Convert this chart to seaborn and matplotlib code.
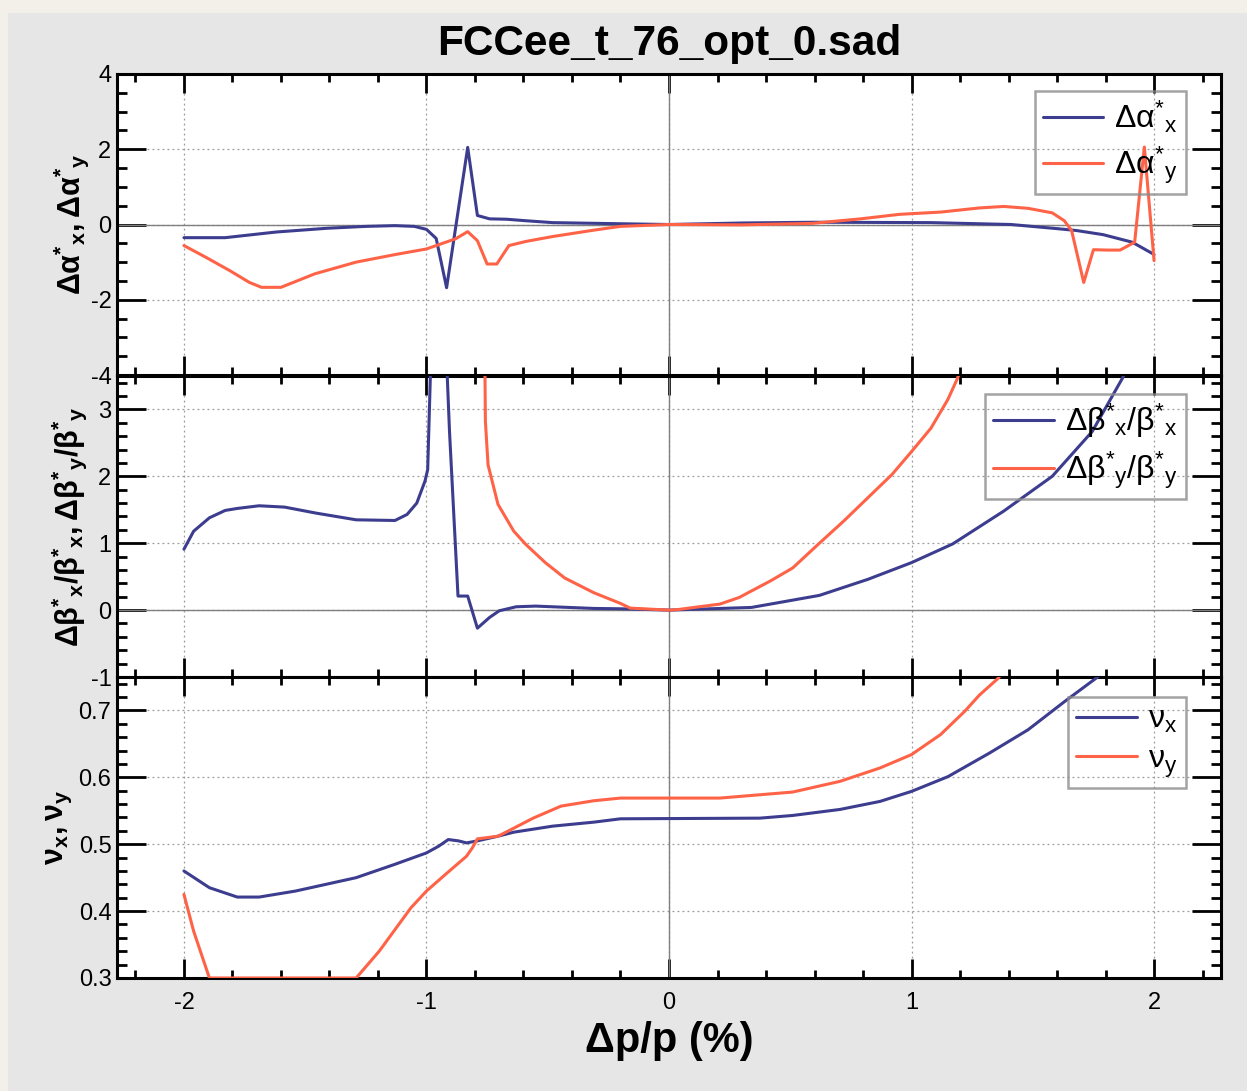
import numpy as np
import pandas as pd
import seaborn as sns
import matplotlib.pyplot as plt
from matplotlib.patches import Rectangle
from matplotlib.lines import Line2D
from matplotlib.ticker import MultipleLocator

# ---- data ----
# panel 1: delta alpha*
alpha_x_dp = [-2.0, -1.83, -1.62, -1.41, -1.25, -1.13, -1.05, -1.0, -0.96, -0.917, -0.83, -0.79,
              -0.74, -0.67, -0.59, -0.48, -0.2, 0.0, 0.3, 0.6, 1.08, 1.41, 1.6, 1.68, 1.79, 1.91, 1.99, 2.0]
alpha_x = [-0.35, -0.35, -0.2, -0.1, -0.05, -0.03, -0.05, -0.13, -0.37, -1.68, 2.05, 0.24,
           0.15, 0.14, 0.1, 0.05, 0.02, 0.0, 0.04, 0.06, 0.05, 0.0, -0.11, -0.16, -0.27, -0.47, -0.76, -0.8]
alpha_y_dp = [-2.0, -1.91, -1.81, -1.73, -1.68, -1.6, -1.46, -1.29, -1.13, -1.0, -0.88, -0.83, -0.79,
              -0.75, -0.71, -0.66, -0.59, -0.48, -0.31, -0.2, 0.0, 0.3, 0.59, 0.79, 0.95, 1.12, 1.28,
              1.38, 1.48, 1.58, 1.63, 1.66, 1.71, 1.75, 1.81, 1.86, 1.92, 1.96, 2.0]
alpha_y = [-0.56, -0.87, -1.23, -1.54, -1.67, -1.67, -1.31, -1.0, -0.8, -0.65, -0.38, -0.19, -0.43,
           -1.05, -1.05, -0.56, -0.45, -0.32, -0.15, -0.05, 0.0, -0.01, 0.03, 0.15, 0.27, 0.33, 0.44,
           0.48, 0.43, 0.31, 0.1, -0.16, -1.54, -0.67, -0.68, -0.68, -0.47, 2.06, -0.96]

# panel 2: delta beta* / beta*
beta_x_dp = [-2.0, -1.96, -1.895, -1.83, -1.78, -1.69, -1.585, -1.455, -1.29, -1.13, -1.08, -1.04,
             -1.006, -0.995, -0.98, -0.92, -0.905, -0.87, -0.83, -0.79, -0.74, -0.70, -0.63, -0.55,
             -0.31, -0.2, 0.0, 0.34, 0.62, 0.82, 1.0, 1.17, 1.38, 1.58, 1.745, 1.87, 1.9]
beta_x = [0.91, 1.18, 1.38, 1.49, 1.52, 1.56, 1.54, 1.45, 1.35, 1.34, 1.43, 1.6,
          1.93, 2.1, 4.0, 4.0, 2.67, 0.21, 0.21, -0.27, -0.11, -0.01, 0.05, 0.06,
          0.025, 0.02, 0.0, 0.04, 0.22, 0.46, 0.71, 0.99, 1.48, 2.0, 2.67, 3.47, 3.7]
beta_y_dp = [-0.76, -0.757, -0.746, -0.705, -0.64, -0.59, -0.51, -0.43, -0.31, -0.2, -0.16, 0.0,
             0.04, 0.21, 0.29, 0.42, 0.51, 0.62, 0.72, 0.84, 0.92, 1.0, 1.08, 1.15, 1.19, 1.22]
beta_y = [4.0, 2.82, 2.17, 1.58, 1.18, 0.98, 0.71, 0.48, 0.26, 0.1, 0.03, 0.0,
          0.01, 0.09, 0.19, 0.44, 0.63, 1.0, 1.33, 1.75, 2.03, 2.37, 2.72, 3.15, 3.47, 3.8]

# panel 3: tunes
nu_x_dp = [-2.0, -1.895, -1.78, -1.69, -1.54, -1.29, -1.13, -1.0, -0.95, -0.91, -0.868, -0.835,
           -0.79, -0.705, -0.64, -0.48, -0.31, -0.2, 0.375, 0.51, 0.705, 0.87, 1.0, 1.15, 1.32,
           1.48, 1.63, 1.76, 1.8]
nu_x = [0.46, 0.435, 0.421, 0.421, 0.43, 0.45, 0.47, 0.487, 0.497, 0.507, 0.505, 0.502,
        0.505, 0.512, 0.518, 0.527, 0.533, 0.538, 0.539, 0.543, 0.552, 0.564, 0.579, 0.601, 0.636,
        0.671, 0.713, 0.748, 0.76]
nu_y_dp = [-2.0, -1.96, -1.895, -1.29, -1.195, -1.064, -1.0, -0.915, -0.835, -0.81, -0.79, -0.705,
           -0.64, -0.56, -0.445, -0.31, -0.2, 0.21, 0.51, 0.705, 0.87, 1.0, 1.12, 1.22, 1.28, 1.357, 1.4]
nu_y = [0.425, 0.37, 0.3, 0.3, 0.34, 0.405, 0.43, 0.457, 0.482, 0.495, 0.508, 0.512,
        0.524, 0.539, 0.557, 0.565, 0.569, 0.569, 0.578, 0.594, 0.614, 0.634, 0.664, 0.699, 0.723, 0.748, 0.77]

labels_alpha = [r"$Δα^{*}{}_{x}$", r"$Δα^{*}{}_{y}$"]
labels_beta = [r"$Δβ^{*}{}_{x}/β^{*}{}_{x}$", r"$Δβ^{*}{}_{y}/β^{*}{}_{y}$"]
labels_nu = [r"$ν_{x}$", r"$ν_{y}$"]

blue = "#3d3d8f"
orange = "#ff6347"

sns.set_style("white")
plt.rcParams["font.family"] = ["Liberation Sans", "DejaVu Sans"]
plt.rcParams["mathtext.default"] = "regular"
plt.rcParams["axes.unicode_minus"] = False
for k in ("text.color", "axes.labelcolor", "xtick.color", "ytick.color"):
    plt.rcParams[k] = "black"

W, H = 1247, 1091
fig = plt.figure(figsize=(W / 100, H / 100), dpi=100, facecolor="#f3f0ea")
fig.patches.append(Rectangle((8 / W, 0), 1 - 8 / W, 1 - 13 / H, transform=fig.transFigure,
                             facecolor="#e6e6e6", edgecolor="none", zorder=-5))

left, right = 117 / W, 1221 / W
ph = 301 / H
bottoms = [1 - 375 / H, 1 - 677 / H, 1 - 978 / H]
axes = []
for i, b in enumerate(bottoms):
    ax = fig.add_axes([left, b, right - left, ph], sharex=axes[0] if axes else None)
    axes.append(ax)


def make_df(x1, y1, x2, y2, labs):
    d1 = pd.DataFrame({"dp": x1, "val": y1, "series": labs[0]})
    d2 = pd.DataFrame({"dp": x2, "val": y2, "series": labs[1]})
    return pd.concat([d1, d2], ignore_index=True)


panels = [
    (make_df(alpha_x_dp, alpha_x, alpha_y_dp, alpha_y, labels_alpha), labels_alpha,
     (-4, 4), 2, 0.5, r"$Δα^{*}{}_{x}, Δα^{*}{}_{y}$", -0.024, (0.968, 0.944)),
    (make_df(beta_x_dp, beta_x, beta_y_dp, beta_y, labels_beta), labels_beta,
     (-1, 3.5), 1, 0.2, r"$Δβ^{*}{}_{x}/β^{*}{}_{x}, Δβ^{*}{}_{y}/β^{*}{}_{y}$", -0.025, (0.968, 0.94)),
    (make_df(nu_x_dp, nu_x, nu_y_dp, nu_y, labels_nu), labels_nu,
     (0.3, 0.75), 0.1, 0.02, r"$ν_{x}, ν_{y}$", -0.039, (0.968, 0.934)),
]

for ax, (df, labs, ylim, maj, mnr, ylab, labx, anchor) in zip(axes, panels):
    ax.set_facecolor("white")
    sns.lineplot(data=df, x="dp", y="val", hue="series", palette=[blue, orange],
                 estimator=None, sort=False, linewidth=2.2, legend=False, ax=ax, zorder=3)
    ax.set_xlim(-2.276, 2.276)
    ax.set_ylim(*ylim)
    ax.xaxis.set_major_locator(MultipleLocator(1))
    ax.xaxis.set_minor_locator(MultipleLocator(0.2))
    ax.yaxis.set_major_locator(MultipleLocator(maj))
    ax.yaxis.set_minor_locator(MultipleLocator(mnr))
    ax.grid(True, which="major", color="#9a9a9a", linestyle=(0, (1.5, 2.5)), linewidth=0.9)
    ax.axvline(0, color="#808080", linewidth=1.0, zorder=1)
    if ylim[0] < 0:
        ax.axhline(0, color="#808080", linewidth=1.0, zorder=1)
    ax.tick_params(axis="x", which="major", direction="in", length=14, width=2,
                   top=True, bottom=True, labelsize=17, pad=10)
    ax.tick_params(axis="x", which="minor", direction="in", length=6, width=2, top=True, bottom=True)
    ax.tick_params(axis="y", which="major", direction="in", length=21, width=2,
                   left=True, right=True, labelsize=17, pad=4)
    ax.tick_params(axis="y", which="minor", direction="in", length=7.5, width=2, left=True, right=True)
    for sp in ax.spines.values():
        sp.set_linewidth(2.2)
        sp.set_color("black")
    ax.set_xlabel("")
    ax.set_ylabel(ylab, fontsize=22, fontweight="bold")
    ax.yaxis.set_label_coords(labx, 0.5)
    handles = [Line2D([], [], color=c, linewidth=2.2) for c in (blue, orange)]
    leg = ax.legend(handles, labs, loc="upper right", bbox_to_anchor=anchor, fontsize=23,
                    frameon=True, fancybox=False, edgecolor="#8c8c8c",
                    handlelength=1.9, handletextpad=0.35, borderpad=0.25, labelspacing=0.3,
                    borderaxespad=0)
    leg.get_frame().set_facecolor("none")
    leg.get_frame().set_linewidth(1.8)

for ax in axes[:2]:
    ax.tick_params(axis="x", labelbottom=False)

fig.text(669 / W, 1 - 55 / H, "FCCee_t_76_opt_0.sad", fontsize=30.5, fontweight="bold",
         ha="center", va="baseline")
fig.text(669.5 / W, 1 - 1052 / H, "Δp/p (%)", fontsize=30, fontweight="bold",
         ha="center", va="baseline")

fig.savefig("out.png", dpi=100, facecolor=fig.get_facecolor())
